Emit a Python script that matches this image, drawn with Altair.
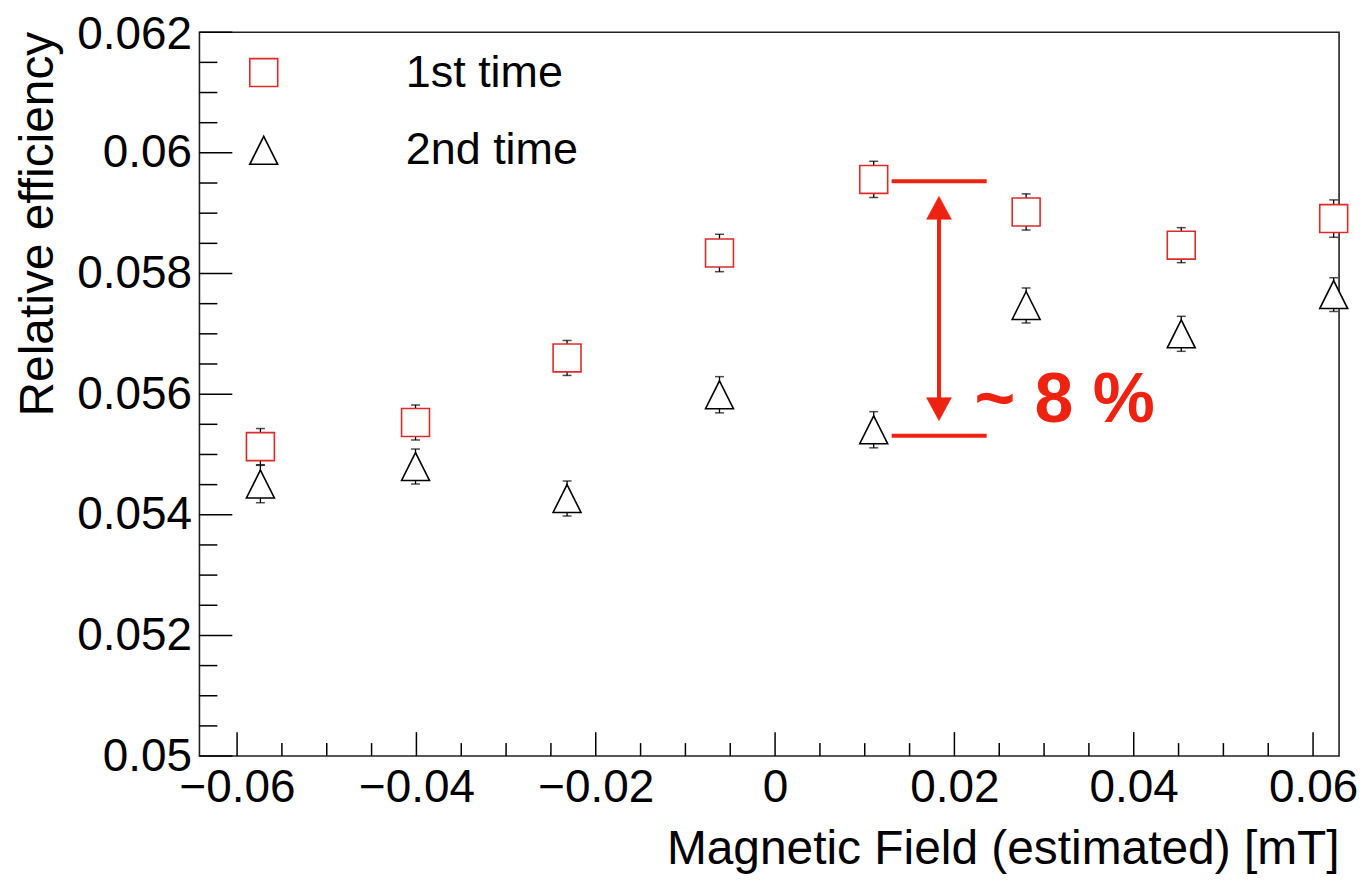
import altair as alt
import pandas as pd

# ---- data ----
field_mT = [-0.0574, -0.0401, -0.0232, -0.0062, 0.0110, 0.0280, 0.0453, 0.0623]
eff_1st = [0.05513, 0.05553, 0.05660, 0.05834, 0.05956, 0.05902, 0.05847, 0.05891]
err_1st = [0.00030, 0.00029, 0.00029, 0.00031, 0.00030, 0.00030, 0.00029, 0.00031]
eff_2nd = [0.05451, 0.05480, 0.05427, 0.05599, 0.05541, 0.05747, 0.05700, 0.05765]
err_2nd = [0.00031, 0.00029, 0.00029, 0.00030, 0.00030, 0.00029, 0.00029, 0.00028]
series_names = ["1st time", "2nd time"]

x_major = [-0.06, -0.04, -0.02, 0.0, 0.02, 0.04, 0.06]
x_minor = [-0.055, -0.05, -0.045, -0.035, -0.03, -0.025, -0.015, -0.01, -0.005,
           0.005, 0.01, 0.015, 0.025, 0.03, 0.035, 0.045, 0.05, 0.055]
y_major = [0.05, 0.052, 0.054, 0.056, 0.058, 0.06, 0.062]
y_minor = [0.0505, 0.051, 0.0515, 0.0525, 0.053, 0.0535, 0.0545, 0.055, 0.0555,
           0.0565, 0.057, 0.0575, 0.0585, 0.059, 0.0595, 0.0605, 0.061, 0.0615]

# annotation (~8 % bracket)
bracket_y = [0.05953, 0.05531]
bracket_x = [0.0130, 0.0236]
arrow_x = [0.01828]
arrow_tips = [0.05928, 0.05556]
arrow_shaft = [0.05900, 0.05585]
label_pos = [0.02223, 0.05553]
label_text = ["~ 8 %"]

X_DOMAIN = [-0.0642, 0.0629]
Y_DOMAIN = [0.05, 0.062]
W, H = 1143, 726
FONT = "Liberation Sans"
RED_MARK = "#dd2a2a"
RED_ANN = "#ee2211"
TRI = "M0,-1L1,1L-1,1Z"

rows = []
for name, vals, errs in ((series_names[0], eff_1st, err_1st), (series_names[1], eff_2nd, err_2nd)):
    for xv, v, e in zip(field_mT, vals, errs):
        rows.append({"x": xv, "y": v, "lo": v - e, "hi": v + e, "series": name})
df = pd.DataFrame(rows)

xscale = alt.Scale(domain=X_DOMAIN, nice=False, zero=False)
yscale = alt.Scale(domain=Y_DOMAIN, nice=False, zero=False)

xaxis = alt.Axis(values=x_major, format="~g", ticks=False, tickSize=0, domain=False, grid=False,
                 labelFontSize=46, labelPadding=10, labelColor="black", labelFont=FONT,
                 labelFlush=False, labelOverlap=False,
                 titleFontSize=48, titleFont=FONT, titleFontWeight="normal", titleColor="black",
                 titleAlign="right", titleAnchor="end", titleBaseline="alphabetic",
                 titleX=W, titleY=108)
yaxis = alt.Axis(values=y_major, format="~g", ticks=False, tickSize=0, domain=False, grid=False,
                 labelFontSize=46, labelPadding=8, labelColor="black", labelFont=FONT,
                 labelFlush=False, labelOverlap=False,
                 labelOffset={"condition": {"test": "datum.value > 0.0619", "value": 2}, "value": 0},
                 titleFontSize=48, titleFont=FONT, titleFontWeight="normal", titleColor="black",
                 titleAngle=270, titleAlign="right", titleAnchor="end", titleBaseline="alphabetic",
                 titleX=-147, titleY=-1)
XT = "Magnetic Field (estimated) [mT]"
YT = "Relative efficiency"


def X(field):
    return alt.X(field, type="quantitative", scale=xscale, axis=xaxis, title=XT)


def Y(field):
    return alt.Y(field, type="quantitative", scale=yscale, axis=yaxis, title=YT)


legend = alt.Legend(orient="none", legendX=42, legendY=18, title=None,
                    labelFontSize=45, labelFont=FONT, labelColor="black", labelLimit=0,
                    symbolSize=784, symbolStrokeWidth=1.6, symbolFillColor="white",
                    labelOffset=120, rowPadding=32, padding=0)

base = alt.Chart(df)

err_rule = base.mark_rule(color="black", strokeWidth=1.3).encode(x=X("x"), y=Y("lo"), y2="hi")
cap_lo = base.mark_tick(color="black", orient="horizontal", size=9, thickness=1.5).encode(x=X("x"), y=Y("lo"))
cap_hi = base.mark_tick(color="black", orient="horizontal", size=9, thickness=1.5).encode(x=X("x"), y=Y("hi"))

points = base.mark_point(filled=True, fill="white", fillOpacity=1, strokeWidth=1.6, opacity=1).encode(
    x=X("x"),
    y=Y("y"),
    stroke=alt.Stroke("series:N",
                      scale=alt.Scale(domain=series_names, range=[RED_MARK, "black"]),
                      legend=legend),
    shape=alt.Shape("series:N",
                    scale=alt.Scale(domain=series_names, range=["square", TRI]),
                    legend=legend),
    size=alt.value(784),
)

# axis ticks drawn inward (ROOT style)
xt_major = alt.Chart(pd.DataFrame({"t": x_major})).mark_rule(color="black", strokeWidth=1.5).encode(
    x=X("t"), y=alt.value(H), y2=alt.value(H - 24))
xt_minor = alt.Chart(pd.DataFrame({"t": x_minor})).mark_rule(color="black", strokeWidth=1.5).encode(
    x=X("t"), y=alt.value(H), y2=alt.value(H - 13))
yt_major = alt.Chart(pd.DataFrame({"t": y_major})).mark_rule(color="black", strokeWidth=1.5).encode(
    y=Y("t"), x=alt.value(0), x2=alt.value(33))
yt_minor = alt.Chart(pd.DataFrame({"t": y_minor})).mark_rule(color="black", strokeWidth=1.5).encode(
    y=Y("t"), x=alt.value(0), x2=alt.value(18))

# annotation
br = pd.DataFrame({"y": bracket_y, "x1": [bracket_x[0]] * 2, "x2": [bracket_x[1]] * 2})
brackets = alt.Chart(br).mark_rule(color=RED_ANN, strokeWidth=4).encode(x=X("x1"), x2="x2", y=Y("y"))
shaft = alt.Chart(pd.DataFrame({"x": arrow_x, "y1": [arrow_shaft[0]], "y2": [arrow_shaft[1]]})).mark_rule(
    color=RED_ANN, strokeWidth=4).encode(x=X("x"), y=Y("y1"), y2="y2")
head_up = alt.Chart(pd.DataFrame({"x": arrow_x, "y": [arrow_tips[0]]})).mark_point(
    filled=True, fill=RED_ANN, stroke=RED_ANN, strokeWidth=0.5, opacity=1, size=625,
    shape="M0,0L1,1.85L-1,1.85Z").encode(x=X("x"), y=Y("y"))
head_dn = alt.Chart(pd.DataFrame({"x": arrow_x, "y": [arrow_tips[1]]})).mark_point(
    filled=True, fill=RED_ANN, stroke=RED_ANN, strokeWidth=0.5, opacity=1, size=625,
    shape="M0,0L1,-1.85L-1,-1.85Z").encode(x=X("x"), y=Y("y"))
label = alt.Chart(pd.DataFrame({"x": [label_pos[0]], "y": [label_pos[1]], "t": label_text})).mark_text(
    color=RED_ANN, fontSize=70, fontWeight="bold", font=FONT, align="left", baseline="alphabetic").encode(
    x=X("x"), y=Y("y"), text="t:N")

chart = alt.layer(
    xt_minor, xt_major, yt_minor, yt_major,
    brackets, shaft, head_up, head_dn, label,
    err_rule, cap_lo, cap_hi, points,
).properties(
    width=W, height=H,
    padding={"left": 192, "top": 23, "right": 22, "bottom": 119},
    autosize=alt.AutoSizeParams(type="none"),
    background="white",
).configure(font=FONT).configure_view(stroke="#222222", strokeWidth=1.6)

chart.save("out.html", embed_options={"renderer": "svg", "actions": False})
